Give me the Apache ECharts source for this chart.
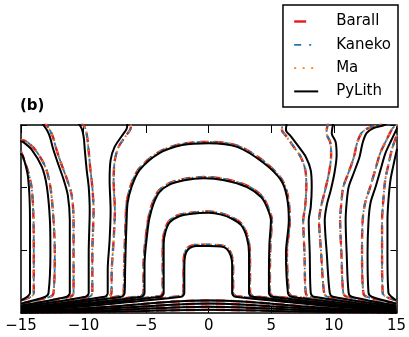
<!DOCTYPE html>
<html><head><meta charset="utf-8">
<script src="https://cdn.jsdelivr.net/npm/echarts@6/dist/echarts.min.js"></script>
<style>html,body{margin:0;padding:0;background:#fff}#c{width:409px;height:337px}</style>
</head><body><div id="c"></div>
<script>
// x tick labels
const xTicks = [-15, -10, -5, 0, 5, 10, 15];
const methodNames = ['Barall', 'Kaneko', 'Ma', 'PyLith'];

// PyLith contours (x, depth-like y)
const pyC1 = [[-15,0.02],[-2.2,0.26],[-1.95,0.32],[-1.95,0.6],[-1.93,0.85],[-1.8,0.97],[-1.5,1.04],[-1.0,1.07],[0,1.07],[1.0,1.06],[1.45,1.02],[1.75,0.92],[1.87,0.78],[1.87,0.5],[1.87,0.32],[2.12,0.26],[15,0.02]];
const pyC2 = [[-15,0.035],[-3.85,0.26],[-3.6,0.32],[-3.6,0.77],[-3.6,1.1],[-3.45,1.3],[-3.1,1.45],[-2.4,1.54],[-1.5,1.58],[0,1.6],[1.0,1.57],[1.9,1.5],[2.6,1.4],[3.05,1.2],[3.22,0.95],[3.22,0.5],[3.22,0.32],[3.47,0.26],[15,0.035]];
const pyC3 = [[-15,0.05],[-5.38,0.26],[-5.13,0.32],[-5.13,0.77],[-4.9,1.29],[-4.73,1.52],[-4.4,1.75],[-3.94,1.93],[-3.14,2.05],[-1.95,2.12],[-0.4,2.15],[1.23,2.12],[3.06,2.01],[4.18,1.85],[4.65,1.69],[4.97,1.48],[4.85,1.1],[4.81,0.6],[4.81,0.32],[5.06,0.26],[15,0.05]];
const pyC4 = [[-15,0.065],[-6.97,0.26],[-6.72,0.32],[-6.68,0.7],[-6.64,1.01],[-6.56,1.48],[-6.48,1.76],[-6.17,2.01],[-5.53,2.28],[-3.94,2.55],[-2.11,2.68],[0,2.71],[2.27,2.65],[4.42,2.39],[5.77,2.12],[6.25,1.85],[6.4,1.48],[6.17,0.96],[6.33,0.32],[6.58,0.26],[15,0.065]];
const pyL5 = [[-15,0.08],[-8.32,0.26],[-8.07,0.32],[-8.07,0.69],[-7.92,1.16],[-7.84,1.64],[-7.92,2.12],[-7.84,2.44],[-7.52,2.65],[-6.96,2.82],[-6.56,2.94],[-6.5,3.05]];
const pyL6 = [[-15,0.1],[-9.84,0.26],[-9.59,0.32],[-9.59,0.96],[-9.51,1.64],[-9.59,2.01],[-9.75,2.28],[-9.9,2.6],[-9.98,2.79],[-10.14,2.94],[-10.5,3.05]];
const pyL7 = [[-15,0.12],[-11.35,0.26],[-11.1,0.32],[-11.1,0.96],[-11.1,1.48],[-11.26,1.88],[-11.58,2.12],[-12.05,2.39],[-12.45,2.63],[-12.69,2.81],[-12.93,2.92],[-13.4,3.05]];
const pyL8 = [[-15,0.15],[-13.05,0.26],[-12.8,0.32],[-12.65,0.96],[-12.69,1.48],[-12.93,2.01],[-13.33,2.33],[-14.12,2.6],[-14.84,2.73],[-15.05,2.74]];
const pyL9 = [[-15,0.2],[-14.5,0.26],[-14.28,0.32],[-14.28,0.96],[-14.28,1.48],[-14.44,2.17],[-14.84,2.5],[-15.05,2.55]];
const pyR5 = [[15,0.08],[8.4,0.26],[8.15,0.32],[8.07,0.96],[7.99,1.48],[8.15,1.69],[8.23,2.01],[8.15,2.28],[7.76,2.49],[7.2,2.65],[6.56,2.82],[6.17,2.92],[6.25,3.05]];
const pyR6 = [[15,0.1],[9.92,0.26],[9.67,0.32],[9.43,0.96],[9.27,1.48],[9.43,1.72],[9.75,1.96],[10.06,2.25],[10.22,2.52],[10.14,2.73],[9.83,2.87],[9.98,3.05]];
const pyR7 = [[15,0.12],[11.43,0.26],[11.18,0.32],[11.02,0.96],[10.94,1.48],[11.02,1.76],[11.18,2.01],[11.58,2.23],[12.05,2.49],[12.29,2.71],[12.61,2.87],[13.17,2.95],[14.04,3.0],[14.3,3.05]];
const pyR8 = [[15,0.15],[13.02,0.26],[12.77,0.32],[12.69,0.96],[12.77,1.48],[12.93,1.76],[13.33,2.01],[13.72,2.28],[14.12,2.55],[14.6,2.76],[15.05,2.95]];
const pyR9 = [[15,0.2],[14.6,0.26],[14.36,0.32],[14.28,0.96],[14.28,1.48],[14.36,1.8],[14.52,2.12],[14.76,2.36],[15.05,2.62]];

// reference solutions (Barall / Kaneko / Ma nearly coincide)
const refC1 = [[-15,0.02],[-2.25,0.27],[-2.02,0.33],[-2.02,0.6],[-2.0,0.86],[-1.86,0.99],[-1.55,1.06],[-1.0,1.09],[0,1.09],[1.0,1.08],[1.5,1.04],[1.82,0.93],[1.95,0.78],[1.95,0.5],[1.95,0.33],[2.2,0.27],[15,0.02]];
const refC2 = [[-15,0.035],[-3.92,0.27],[-3.68,0.33],[-3.68,0.77],[-3.68,1.1],[-3.53,1.31],[-3.16,1.47],[-2.44,1.56],[-1.5,1.6],[0,1.62],[1.0,1.59],[1.92,1.52],[2.65,1.42],[3.12,1.21],[3.3,0.95],[3.3,0.5],[3.3,0.33],[3.55,0.27],[15,0.035]];
const refC3 = [[-15,0.05],[-5.45,0.27],[-5.21,0.33],[-5.21,0.77],[-4.98,1.3],[-4.8,1.54],[-4.47,1.77],[-4.0,1.95],[-3.18,2.07],[-1.95,2.14],[-0.4,2.17],[1.23,2.14],[3.1,2.03],[4.24,1.87],[4.72,1.7],[5.05,1.48],[4.93,1.1],[4.89,0.6],[4.89,0.33],[5.14,0.27],[15,0.05]];
const refC4 = [[-15,0.065],[-7.05,0.27],[-6.8,0.33],[-6.76,0.7],[-6.72,1.01],[-6.64,1.48],[-6.56,1.76],[-6.24,2.03],[-5.58,2.3],[-3.98,2.57],[-2.11,2.7],[0,2.73],[2.3,2.67],[4.48,2.41],[5.84,2.13],[6.33,1.86],[6.48,1.48],[6.25,0.96],[6.41,0.33],[6.66,0.27],[15,0.065]];
const refL5 = [[-15,0.08],[-8.0,0.26],[-7.77,0.32],[-7.75,0.69],[-7.6,1.16],[-7.5,1.64],[-7.6,2.12],[-7.5,2.44],[-7.2,2.65],[-6.65,2.82],[-6.25,2.94],[-6.2,3.05]];
const refL6 = [[-15,0.1],[-9.55,0.26],[-9.3,0.32],[-9.3,0.96],[-9.2,1.64],[-9.3,2.01],[-9.45,2.28],[-9.6,2.6],[-9.7,2.79],[-9.85,2.94],[-10.2,3.05]];
const refL7 = [[-15,0.12],[-11.05,0.26],[-10.8,0.32],[-10.8,0.96],[-10.8,1.48],[-10.95,1.88],[-11.3,2.12],[-11.8,2.39],[-12.2,2.63],[-12.45,2.81],[-12.7,2.92],[-13.1,3.05]];
const refL8 = [[-15,0.15],[-12.65,0.26],[-12.4,0.32],[-12.3,0.96],[-12.4,1.48],[-12.65,2.01],[-13.05,2.33],[-13.85,2.6],[-14.6,2.74],[-15.05,2.76]];
const refL9 = [[-15,0.2],[-14.2,0.26],[-13.98,0.32],[-13.98,0.96],[-14.0,1.48],[-14.15,2.0],[-14.5,2.3],[-15.05,2.6]];
const refR5 = [[15,0.08],[8.0,0.26],[7.75,0.32],[7.65,0.96],[7.55,1.48],[7.7,1.69],[7.8,2.01],[7.72,2.28],[7.35,2.49],[6.8,2.65],[6.2,2.82],[5.85,2.92],[5.9,3.05]];
const refR6 = [[15,0.1],[9.47,0.26],[9.22,0.32],[8.98,0.96],[8.82,1.48],[9.0,1.72],[9.3,1.96],[9.62,2.25],[9.78,2.52],[9.7,2.73],[9.4,2.87],[9.55,3.05]];
const refR7 = [[15,0.12],[11.0,0.26],[10.75,0.32],[10.6,0.96],[10.5,1.48],[10.6,1.76],[10.75,2.01],[11.15,2.23],[11.6,2.49],[11.85,2.71],[12.2,2.87],[12.75,2.95],[13.6,3.0],[13.9,3.05]];
const refR8 = [[15,0.15],[12.6,0.26],[12.35,0.32],[12.25,0.96],[12.3,1.48],[12.5,1.76],[12.9,2.01],[13.3,2.28],[13.7,2.55],[14.2,2.76],[14.7,2.95],[15.05,3.0]];
const refR9 = [[15,0.2],[14.15,0.26],[13.9,0.32],[13.85,0.96],[13.85,1.48],[13.95,1.8],[14.1,2.12],[14.35,2.36],[14.65,2.62],[15.05,2.85]];

// thin layer of crowded contours along the bottom (all solutions)
const band1 = [[-15,0.014],[-8,0.1],[-3,0.18],[0,0.2],[3,0.18],[8,0.1],[15,0.014]];
const band2 = [[-15,0.01],[-8,0.07],[-3,0.13],[0,0.15],[3,0.13],[8,0.07],[15,0.01]];
const band3 = [[-15,0.006],[-8,0.045],[0,0.1],[8,0.045],[15,0.006]];
const band4 = [[-15,0.003],[-8,0.02],[0,0.05],[8,0.02],[15,0.003]];

const refSet = [refC1, refC2, refC3, refC4, refL5, refL6, refL7, refL8, refL9, refR5, refR6, refR7, refR8, refR9, band1, band2, band3, band4];
const pySet = [pyC1, pyC2, pyC3, pyC4, pyL5, pyL6, pyL7, pyL8, pyL9, pyR5, pyR6, pyR7, pyR8, pyR9, band1, band2, band3, band4];

const styles = {
  Barall: {color: '#e41a1c', type: [9, 6], width: 2.4, set: refSet},
  Kaneko: {color: '#1f77b4', type: [6, 3, 1.5, 3], width: 1.8, set: refSet},
  Ma: {color: '#ff7f0e', type: [1.6, 4.4], width: 1.8, set: refSet},
  PyLith: {color: '#000000', type: 'solid', width: 2, set: pySet}
};

const series = [];
methodNames.forEach(function (name) {
  const st = styles[name];
  st.set.forEach(function (c) {
    series.push({
      name: name, type: 'line', data: c, symbol: 'none', smooth: 0.3,
      clip: true, silent: true,
      lineStyle: {color: st.color, width: st.width, type: st.type, cap: 'butt'},
      itemStyle: {color: st.color}
    });
  });
});

const axisCommon = {
  axisLine: {show: true, onZero: false, lineStyle: {color: '#000', width: 1.5}},
  splitLine: {show: false}
};

const chart = echarts.init(document.getElementById('c'), null, {renderer: 'canvas'});
chart.setOption({
  animation: false,
  backgroundColor: '#fff',
  title: {text: '(b)', left: 20, top: 99, padding: 0,
    textStyle: {fontSize: 15, fontWeight: 'bold', color: '#000', fontFamily: 'DejaVu Sans'}},
  legend: {
    orient: 'vertical', right: 11, top: 5,
    data: [
      {name: 'Barall', lineStyle: {type: [12, 20], width: 2.4}},
      {name: 'Kaneko', lineStyle: {type: [7, 8, 2, 20], width: 1.8}},
      {name: 'Ma', lineStyle: {type: [2, 6.5], width: 1.8}},
      {name: 'PyLith', lineStyle: {width: 2}}
    ],
    itemWidth: 24, itemHeight: 14, itemGap: 8.3,
    itemStyle: {opacity: 0, borderWidth: 0},
    padding: [9, 7, 8, 10],
    borderColor: '#000', borderWidth: 1.5, borderRadius: 0,
    textStyle: {fontSize: 15, color: '#000', fontFamily: 'DejaVu Sans', padding: [0, 0, 0, 13]}
  },
  grid: {left: 21, right: 11, top: 125, bottom: 24, containLabel: false},
  xAxis: [
    Object.assign({type: 'value', min: -15, max: 15, interval: 5, position: 'bottom',
      axisTick: {show: true, inside: true, length: 6, lineStyle: {color: '#000', width: 1}},
      axisLabel: {show: true, margin: 6, fontSize: 15, color: '#000', fontFamily: 'DejaVu Sans',
        formatter: function (v) { return xTicks.indexOf(v) >= 0 ? String(v).replace('-', '\u2212') : ''; }}
    }, axisCommon),
    Object.assign({type: 'value', min: -15, max: 15, interval: 5, position: 'top',
      axisTick: {show: true, inside: true, length: 8, lineStyle: {color: '#000', width: 1}},
      axisLabel: {show: false}}, axisCommon)
  ],
  yAxis: [
    Object.assign({type: 'value', min: 0, max: 3, interval: 1, position: 'left',
      axisTick: {show: true, inside: true, length: 6, lineStyle: {color: '#000', width: 1}},
      axisLabel: {show: false}}, axisCommon),
    Object.assign({type: 'value', min: 0, max: 3, interval: 1, position: 'right',
      axisTick: {show: true, inside: true, length: 6, lineStyle: {color: '#000', width: 1}},
      axisLabel: {show: false}}, axisCommon)
  ],
  series: series
});
</script></body></html>
